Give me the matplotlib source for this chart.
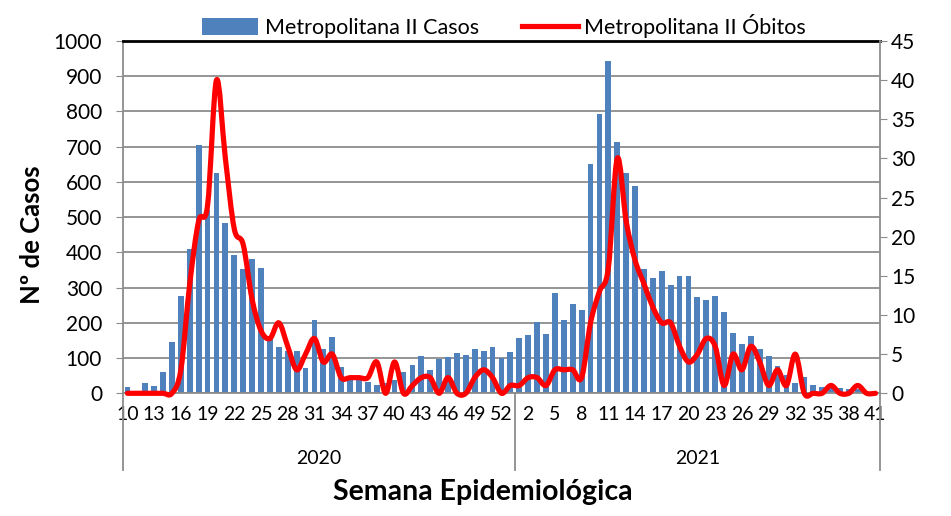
import matplotlib as mpl

mpl.use('Agg')
import matplotlib.pyplot as plt
import matplotlib.transforms as mtransforms
from matplotlib.path import Path
from matplotlib.patches import PathPatch, Patch
from matplotlib.lines import Line2D
import numpy as np

plt.rcParams['font.family'] = ['Lato', 'DejaVu Sans']

weeks_2020 = list(range(10, 54))
weeks_2021 = list(range(1, 42))
years = ["2020", "2021"]

casos = [17, 0, 28, 21, 60, 146, 276, 410, 705, 520,
         626, 484, 393, 354, 380, 357, 160, 131, 120, 120,
         71, 208, 127, 160, 75, 43, 43, 33, 24, 30,
         38, 60, 79, 106, 66, 96, 103, 115, 110, 126,
         121, 130, 99, 116,
         156, 166, 202, 169, 285, 209, 254, 237, 652, 793,
         943, 712, 624, 589, 352, 328, 346, 306, 333, 334,
         273, 266, 275, 230, 170, 140, 162, 125, 106, 77,
         53, 30, 45, 24, 19, 21, 14, 11, 11, 3, 0]

obitos = [0, 0, 0, 0, 0, 0, 3, 14, 22, 24,
          40, 30, 21, 19, 12, 8, 7, 9, 6, 3,
          5, 7, 4, 5, 2, 2, 2, 2, 4, 0,
          4, 0, 1, 2, 2, 0, 2, 0, 0, 2,
          3, 2, 0, 1,
          1, 2, 2, 1, 3, 3, 3, 2, 9, 13,
          16, 30, 22, 17, 14, 11, 9, 9, 6, 4,
          5, 7, 6, 1, 5, 3, 6, 4, 1, 3,
          1, 5, 0, 0, 0, 1, 0, 0, 1, 0, 0]

week_labels = [str(w) for w in weeks_2020 + weeks_2021]
x = np.arange(len(week_labels))

blue = '#4F81BD'
grid_gray = '#8c8c8c'


def smooth_path(xs, ys):
    # excel style smoothed line: bezier segments, catmull-rom control points
    pts = np.column_stack([xs, ys]).astype(float)
    ext = np.vstack([pts[0], pts, pts[-1]])
    verts = [pts[0]]
    codes = [Path.MOVETO]
    for i in range(len(pts) - 1):
        p0, p1, p2, p3 = ext[i], ext[i + 1], ext[i + 2], ext[i + 3]
        verts += [p1 + (p2 - p0) / 6, p2 - (p3 - p1) / 6, p2]
        codes += [Path.CURVE4] * 3
    return Path(verts, codes)


fig = plt.figure(figsize=(9.51, 5.16), dpi=100)
ax = fig.add_axes([0.1293, 0.2378, 0.7960, 0.6827])

ax.bar(x, casos, width=0.65, color=blue, zorder=2)
ax.set_xlim(-0.5, len(x) - 0.5)
ax.set_ylim(0, 1000)
ax.set_yticks(range(0, 1001, 100))
ax.yaxis.grid(True, color=grid_gray, lw=1.3)
ax.set_axisbelow(True)

ax.set_xticks(x[::3])
ax.set_xticklabels(week_labels[::3])
ax.tick_params(axis='x', length=0, pad=9, labelsize=14)
ax.tick_params(axis='y', direction='out', length=5, color=grid_gray, labelsize=15, pad=10)

for s in ['left', 'bottom']:
    ax.spines[s].set_color(grid_gray)
    ax.spines[s].set_linewidth(1.3)
ax.spines['right'].set_visible(False)
ax.spines['top'].set_color('black')
ax.spines['top'].set_linewidth(2)

ax2 = ax.twinx()
ax2.set_ylim(0, 45)
ax2.set_yticks(range(0, 46, 5))
ax2.tick_params(axis='y', direction='out', length=5, color=grid_gray, labelsize=15, pad=3)
for s in ['left', 'top', 'bottom']:
    ax2.spines[s].set_visible(False)
ax2.spines['right'].set_color(grid_gray)
ax2.spines['right'].set_linewidth(1.3)

ax2.add_patch(PathPatch(smooth_path(x, obitos), fill=False, edgecolor='#FF0000',
                        lw=3.75, capstyle='round', joinstyle='round', clip_on=False, zorder=3))

# multi level category axis: year separators and labels
trans = mtransforms.blended_transform_factory(ax.transData, ax.transAxes)
n20 = len(weeks_2020)
for xv in [-0.5, n20 - 0.5, len(x) - 0.5]:
    ax.plot([xv, xv], [0, -0.218], transform=trans, color=grid_gray, lw=1.3, clip_on=False)
ax.text((n20 - 1) / 2, -0.184, years[0], transform=trans, ha='center', va='center', fontsize=14)
ax.text((n20 + len(x) - 1) / 2, -0.184, years[1], transform=trans, ha='center', va='center', fontsize=14)

fig.text(0.508, 0.046, "Semana Epidemiológica", ha='center', va='center', fontsize=20.5, fontweight='bold')
fig.text(0.034, 0.545, "Nº de Casos", ha='center', va='center', rotation=90, fontsize=18.5, fontweight='bold')

handles = [Patch(facecolor=blue), Line2D([], [], color='#FF0000', lw=3.75)]
fig.legend(handles, ["Metropolitana II Casos", "Metropolitana II Óbitos"], loc='upper center',
           bbox_to_anchor=(0.530, 1.01), ncol=2, frameon=False, fontsize=15.5,
           handlelength=2.6, handleheight=0.8, columnspacing=2.0, handletextpad=0.3)

fig.savefig("out.png", dpi=100)
